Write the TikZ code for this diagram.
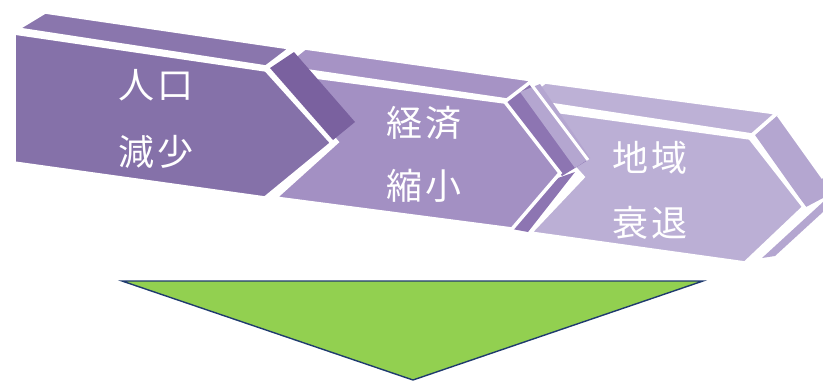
\documentclass[tikz,border=0pt]{standalone}
\usepackage{fontspec}
\newfontfamily\jp{Noto Sans CJK JP}
\definecolor{pA}{HTML}{8571A9}
\definecolor{pAt}{HTML}{8A76AD}
\definecolor{pAs}{HTML}{7A619F}
\definecolor{pB}{HTML}{A390C3}
\definecolor{pBt}{HTML}{A693C5}
\definecolor{pBs}{HTML}{8D75B2}
\definecolor{pC}{HTML}{BBAFD5}
\definecolor{pCt}{HTML}{BDB1D6}
\definecolor{pCs}{HTML}{B4A6D0}
\definecolor{tri}{HTML}{92D050}
\definecolor{triline}{HTML}{1F3A6E}
\tikzset{
  face/.style={draw=white, line width=3.5pt, line join=miter},
  lbl/.style={text=white, font=\jp\fontsize{36}{36}\selectfont, inner sep=0pt, anchor=center}
}
\begin{document}
\begin{tikzpicture}[x=1pt,y=-1pt]
\useasboundingbox (0,0) rectangle (823,381);
% chevron 3
\fill[pCs] (755,135) -- (778,115) -- (823,178) -- (823,198) -- (806,207) -- cycle;
\draw[white,line width=3pt] (778,115) -- (823,178);
\fill[pCs] (762,258) -- (823,202) -- (823,212) -- (775,256) -- cycle;
\filldraw[face,fill=pCt] (522,100) -- (545,82) -- (777,113) -- (752,135) -- cycle;
\filldraw[face,fill=pC] (518,106) -- (750,138) -- (804,207) -- (745,263) -- (530,233) -- (583,177) -- cycle;
% chevron 2 side
\fill[pBs] (503,100) -- (528,80) -- (588,160) -- (562,176) -- cycle;
\fill[pCs] (520,92) -- (540,84) -- (590,158) -- (575,168) -- cycle;
\fill[pBs] (512,229) -- (558,178) -- (575,172) -- (528,232) -- cycle;
\draw[white,line width=3pt] (528,80) -- (588,160);
% chevron 2
\filldraw[face,fill=pBt] (281,67) -- (305,48) -- (533,80) -- (507,100) -- cycle;
\filldraw[face,fill=pB] (277,72) -- (505,102) -- (560,173) -- (512,229) -- (275,198) -- (337,142) -- cycle;
% chevron 1 side
\fill[pAs] (270,68) -- (294,52) -- (355,122) -- (333,140) -- cycle;
% chevron 1
\filldraw[face,fill=pAt] (17,29) -- (45,12) -- (291,48) -- (266,67) -- cycle;
\filldraw[face,fill=pA] (14,33) -- (266,70) -- (332,143) -- (265,198) -- (14,163) -- cycle;
% labels
\node[lbl] (a1) at (156,85) {人\hspace{4pt}口};
\node[lbl] (a2) at (156,152) {減\hspace{4pt}少};
\node[lbl] (b1) at (424,123) {経\hspace{4pt}済};
\node[lbl] (b2) at (424,186) {縮\hspace{4pt}小};
\node[lbl] (c1) at (650,158) {地\hspace{4pt}域};
\node[lbl] (c2) at (650,223) {衰\hspace{4pt}退};
% triangle
\filldraw[fill=tri, draw=triline, line width=1.4pt, line join=miter] (122,281) -- (703,281) -- (413,380) -- cycle;
\end{tikzpicture}
\end{document}
